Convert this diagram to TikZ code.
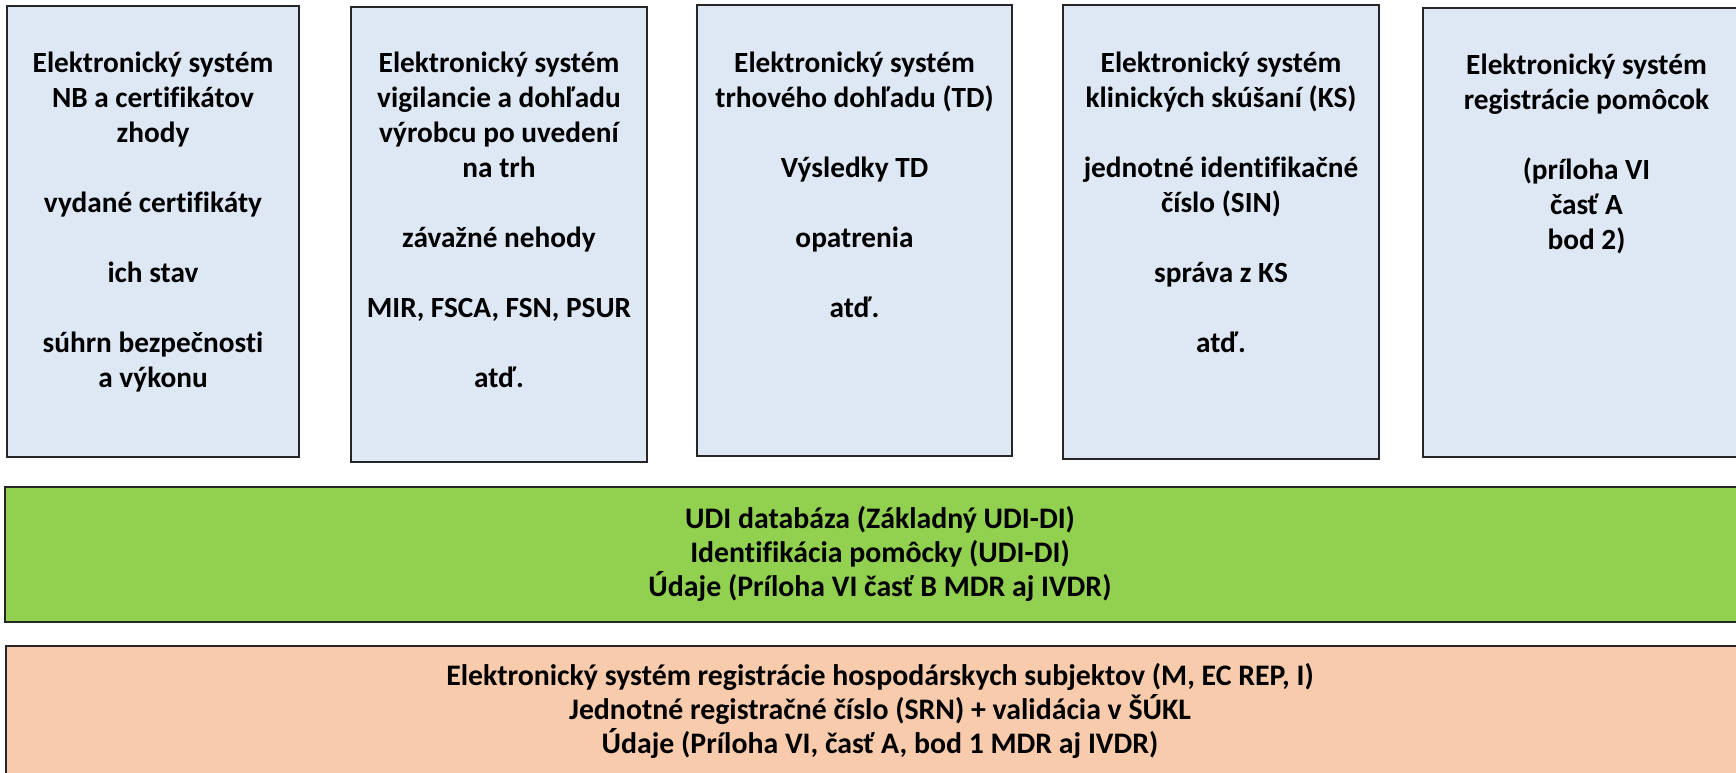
\documentclass[tikz,border=0pt]{standalone}
\usepackage{fontspec}
\setmainfont{Carlito}[Ligatures={NoCommon}]
\definecolor{boxblue}{HTML}{DEE8F4}
\definecolor{boxgreen}{HTML}{92D050}
\definecolor{boxorange}{HTML}{F8CBAD}
\newcommand\fstrut{\rule{0pt}{26pt}}
\tikzset{
  panel/.style={draw=black!85, line width=1.6pt, inner sep=0pt, outer sep=0pt},
  sysbox/.style={panel, fill=boxblue},
  udibox/.style={panel, fill=boxgreen},
  regbox/.style={panel, fill=boxorange},
  txt/.style={align=center, inner sep=0pt, anchor=north, text=black,
              font=\bfseries\fontsize{29.3}{35}\selectfont},
  bandtxt/.style={align=center, inner sep=0pt, anchor=north, text=black,
              font=\bfseries\fontsize{29.8}{34.3}\selectfont},
}
\begin{document}
\begin{tikzpicture}[x=1pt,y=-1pt]
\useasboundingbox (0,0) rectangle (1736,773);
\clip (0,0) rectangle (1736,773);
% top boxes
\node[sysbox, minimum width=292pt, minimum height=451pt] (b1) at (153,231.5) {};
\node[sysbox, minimum width=296pt, minimum height=455pt] (b2) at (499,234.5) {};
\node[sysbox, minimum width=315pt, minimum height=451pt] (b3) at (854.5,230.5) {};
\node[sysbox, minimum width=316pt, minimum height=454pt] (b4) at (1221,232) {};
\node[sysbox, minimum width=327pt, minimum height=449pt] (b5) at (1586.5,232.5) {};
% bands
\node[udibox, minimum width=1750pt, minimum height=135pt] (udi) at (880,554.5) {};
\node[regbox, minimum width=1748pt, minimum height=154pt] (reg) at (880,723) {};
% texts
\node[txt] (t1) at (153,46) {\fstrut Elektronický systém\\NB a certifikátov\\zhody\\[35pt]vydané certifikáty\\[35pt]ich stav\\[35pt]súhrn bezpečnosti\\a výkonu};
\node[txt] (t2) at (499,46) {\fstrut Elektronický systém\\vigilancie a dohľadu\\výrobcu po uvedení\\na trh\\[35pt]závažné nehody\\[35pt]MIR, FSCA, FSN, PSUR\\[35pt]atď.};
\node[txt] (t3) at (854.5,46) {\fstrut Elektronický systém\\trhového dohľadu (TD)\\[35pt]Výsledky TD\\[35pt]opatrenia\\[35pt]atď.};
\node[txt] (t4) at (1221,46) {\fstrut Elektronický systém\\klinických skúšaní (KS)\\[35pt]jednotné identifikačné\\číslo (SIN)\\[35pt]správa z KS\\[35pt]atď.};
\node[txt] (t5) at (1586.5,48) {\fstrut Elektronický systém\\registrácie pomôcok\\[35pt](príloha VI\\časť A\\bod 2)};
\node[bandtxt] (tu) at (880,502) {\fstrut UDI databáza (Základný UDI-DI)\\Identifikácia pomôcky (UDI-DI)\\Údaje (Príloha VI časť B MDR aj IVDR)};
\node[bandtxt] (tr) at (880,659) {\fstrut Elektronický systém registrácie hospodárskych subjektov (M, EC REP, I)\\Jednotné registračné číslo (SRN) + validácia v ŠÚKL\\Údaje (Príloha VI, časť A, bod 1 MDR aj IVDR)};
\end{tikzpicture}
\end{document}
